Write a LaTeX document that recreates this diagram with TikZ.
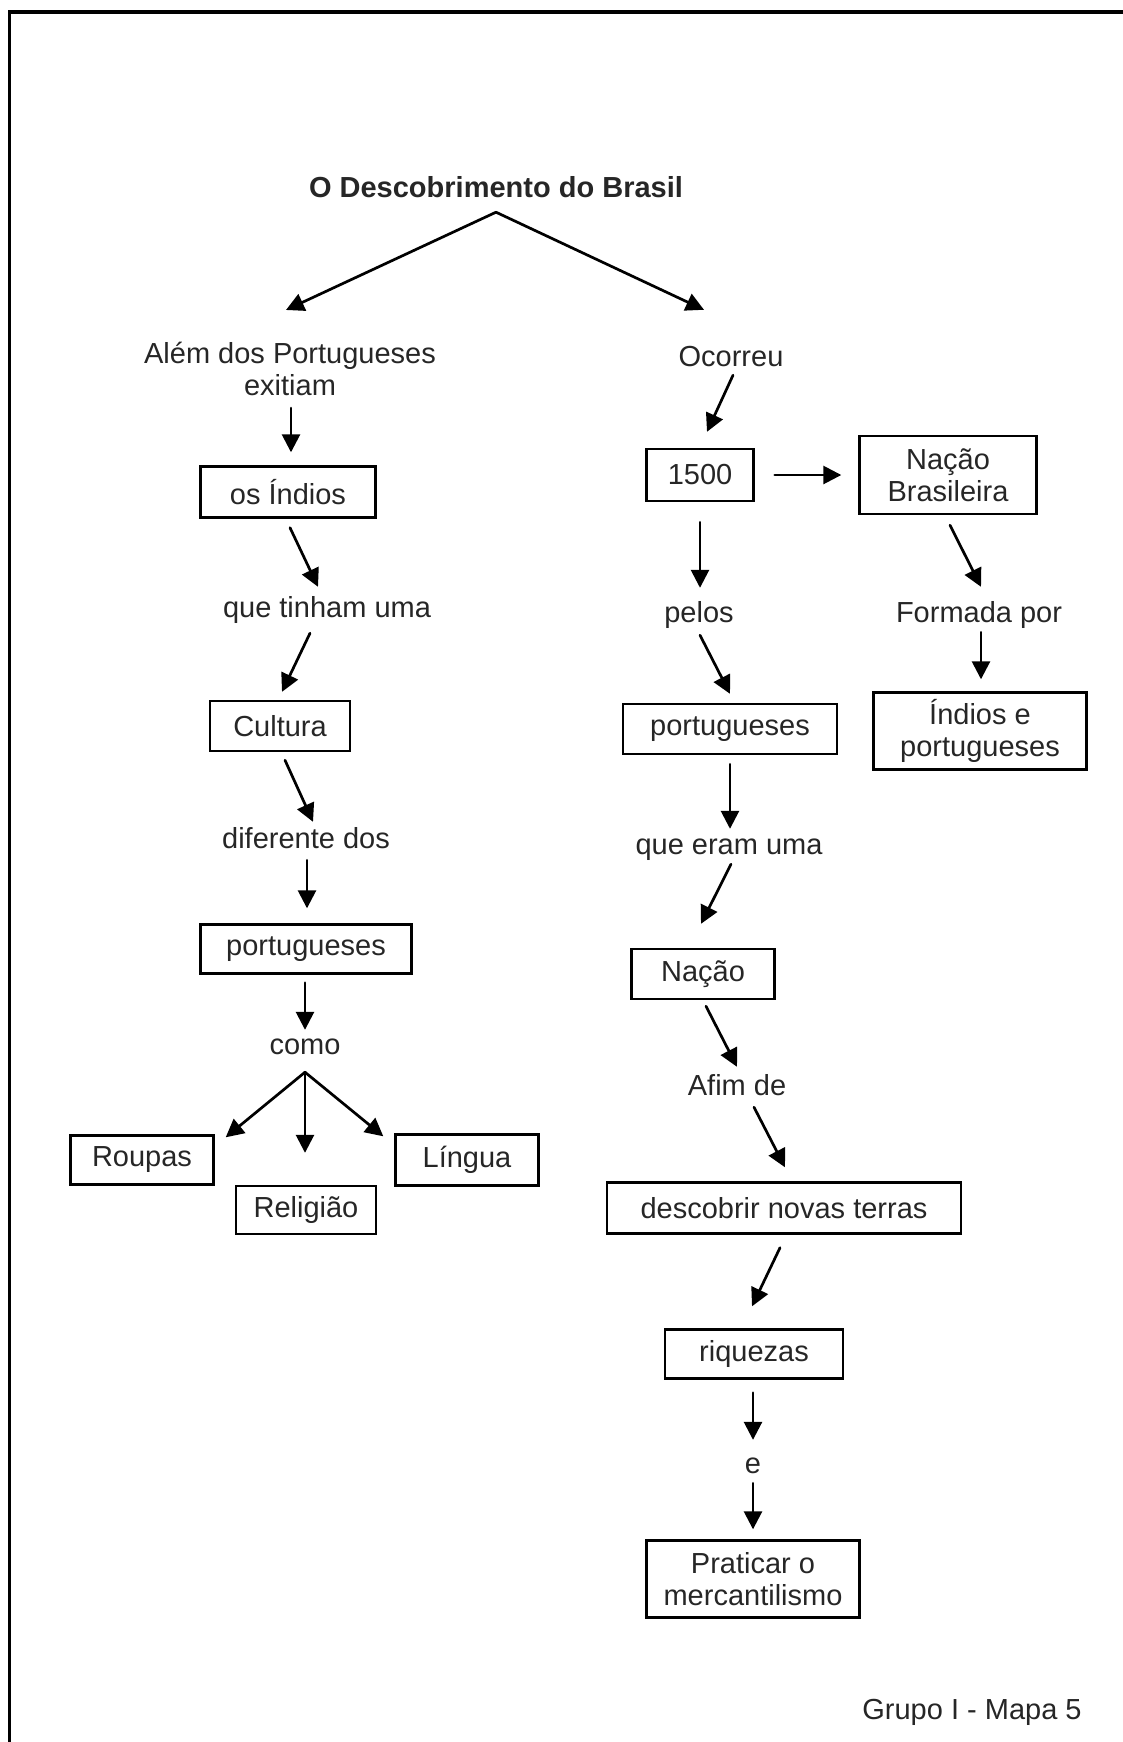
\documentclass[tikz,border=0pt]{standalone}
\usepackage{fontspec}
\setmainfont{Liberation Sans}
\usetikzlibrary{arrows.meta}
\tikzset{
  flow/.style={line width=2.7pt, line cap=round, -{Triangle[length=18pt,width=18pt]}},
  conceptbox/.style={draw, line width=2.4pt, inner sep=0pt, align=center},
  linkword/.style={inner sep=0pt, text height=21pt, text depth=6pt, anchor=base}
}

\begin{document}
\begin{tikzpicture}[x=1pt, y=-1pt, every node/.style={font=\fontsize{29}{32}\selectfont, text=black!85}]
  \useasboundingbox (0,0) rectangle (1122,1742);
  % moldura
  \draw[line width=3.5pt] (1140,12) -- (9.5,12) -- (9.5,1760);

  \node[linkword, font=\fontsize{29}{32}\selectfont\bfseries] (titulo) at (496,197) {O Descobrimento do Brasil};

  % lado esquerdo
  \node[inner sep=0pt, align=center] (alem) at (290,369) {Além dos Portugueses\\exitiam};
  \node[conceptbox, minimum width=175pt, minimum height=51pt] (indios) at (288,492) {os Índios};
  \node[linkword] (tinham) at (327,617) {que tinham uma};
  \node[conceptbox, minimum width=140pt, minimum height=50pt] (cultura) at (280,726) {Cultura};
  \node[linkword] (diferente) at (306,848) {diferente dos};
  \node[conceptbox, minimum width=211pt, minimum height=49pt] (portE) at (306,949) {portugueses};
  \node[linkword] (como) at (305,1054) {como};
  \node[conceptbox, minimum width=143pt, minimum height=49pt] (roupas) at (142,1160) {Roupas};
  \node[conceptbox, minimum width=140pt, minimum height=48pt] (religiao) at (306,1210) {Religião};
  \node[conceptbox, minimum width=143pt, minimum height=51pt] (lingua) at (467,1160) {Língua};

  % lado direito
  \node[linkword] (ocorreu) at (731,366) {Ocorreu};
  \node[conceptbox, minimum width=107pt, minimum height=52pt] (ano) at (700,475) {1500};
  \node[conceptbox, minimum width=177pt, minimum height=78pt] (nacaoBR) at (948,475) {Nação\\Brasileira};
  \node[linkword] (pelos) at (699,622) {pelos};
  \node[conceptbox, minimum width=214pt, minimum height=50pt] (portD) at (730,729) {portugueses};
  \node[linkword] (eram) at (729,854) {que eram uma};
  \node[conceptbox, minimum width=143pt, minimum height=50pt] (nacao) at (703,974) {Nação};
  \node[linkword] (afim) at (737,1095) {Afim de};
  \node[conceptbox, minimum width=354pt, minimum height=51pt] (descobrir) at (784,1208) {descobrir novas terras};
  \node[conceptbox, minimum width=178pt, minimum height=49pt] (riquezas) at (754,1354) {riquezas};
  \node[linkword] (ligE) at (753,1473) {e};
  \node[conceptbox, minimum width=213pt, minimum height=77pt] (praticar) at (753,1579) {Praticar o\\mercantilismo};
  \node[linkword] (formada) at (979,622) {Formada por};
  \node[conceptbox, minimum width=213pt, minimum height=77pt] (indiosPort) at (980,731) {Índios e\\portugueses};
  \node[linkword] (grupo) at (972,1719) {Grupo I - Mapa 5};

  % ligacoes
  \coordinate (forkT) at ([yshift=-9pt]titulo.south);
  \draw[flow] (forkT) -- ([xshift=-4pt,yshift=32pt]alem.north);
  \draw[flow] (forkT) -- ([xshift=-27pt,yshift=35pt]ocorreu.north);
  \draw[flow] ([xshift=1pt,yshift=-12pt]alem.south) -- ([xshift=3pt,yshift=13pt]indios.north);
  \draw[flow] ([xshift=2pt,yshift=-9pt]indios.south) -- ([xshift=-9pt,yshift=9pt]tinham.north);
  \draw[flow] ([xshift=-17pt,yshift=-10pt]tinham.south) -- ([xshift=2pt,yshift=8pt]cultura.north);
  \draw[flow] ([xshift=5pt,yshift=-8pt]cultura.south) -- ([xshift=7pt,yshift=5pt]diferente.north);
  \draw[flow] ([xshift=1pt,yshift=-6pt]diferente.south) -- ([xshift=1pt,yshift=15pt]portE.north);
  \draw[flow] ([xshift=-1pt,yshift=-8pt]portE.south) -- ([yshift=3pt]como.north);
  \coordinate (forkC) at ([yshift=-12pt]como.south);
  \draw[flow] (forkC) -- ([xshift=11pt,yshift=-3pt]roupas.north east);
  \draw[flow] (forkC) -- ([yshift=32pt]forkC |- religiao.north);
  \draw[flow] (forkC) -- ([xshift=-11pt,yshift=-3pt]lingua.north west);

  \draw[flow] ([xshift=2pt,yshift=-3pt]ocorreu.south) -- ([xshift=7pt,yshift=16pt]ano.north);
  \draw[flow] ([xshift=20pt]ano.east) -- ([xshift=-17pt]ano.east -| nacaoBR.west);
  \draw[flow] ([yshift=-20pt]ano.south) -- ([yshift=13pt]ano.south |- pelos.north);
  \draw[flow] ([xshift=1pt,yshift=-7pt]pelos.south) -- ([yshift=9pt]portD.north);
  \draw[flow] ([yshift=-9pt]portD.south) -- ([yshift=4pt]portD.south |- eram.north);
  \draw[flow] ([xshift=2pt,yshift=-4pt]eram.south) -- ([xshift=-2pt,yshift=24pt]nacao.north);
  \draw[flow] ([xshift=3pt,yshift=-6pt]nacao.south) -- ([yshift=7pt]afim.north);
  \draw[flow] ([xshift=17pt,yshift=-6pt]afim.south) -- ([xshift=1pt,yshift=14pt]descobrir.north);
  \draw[flow] ([xshift=-4pt,yshift=-13pt]descobrir.south) -- ([xshift=-2pt,yshift=22pt]riquezas.north);
  \draw[flow] ([xshift=-1pt,yshift=-13pt]riquezas.south) -- ([yshift=12pt]ligE.north);
  \draw[flow] ([yshift=-4pt]ligE.south) -- ([yshift=10pt]praticar.north);
  \draw[flow] ([xshift=2pt,yshift=-10pt]nacaoBR.south) -- ([xshift=2pt,yshift=14pt]formada.north);
  \draw[flow] ([xshift=2pt,yshift=-4pt]formada.south) -- ([xshift=1pt,yshift=12pt]indiosPort.north);
\end{tikzpicture}
\end{document}
